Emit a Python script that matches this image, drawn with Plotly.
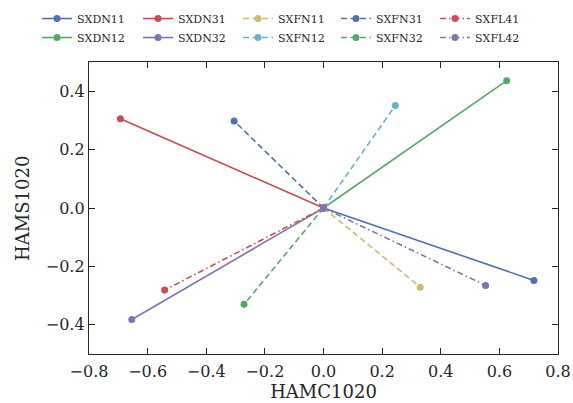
import plotly.graph_objects as go

# Loading vectors: each series runs from the origin to its end point
names = ["SXDN11", "SXDN12", "SXDN31", "SXDN32", "SXFN11",
         "SXFN12", "SXFN31", "SXFN32", "SXFL41", "SXFL42"]
end_x = [0.718, 0.625, -0.693, -0.654, 0.330, 0.245, -0.305, -0.271, -0.542, 0.553]
end_y = [-0.248, 0.436, 0.306, -0.382, -0.271, 0.351, 0.298, -0.330, -0.281, -0.265]
colors = ["#4C72B0", "#55A868", "#C44E52", "#8172B2", "#CCB974",
          "#64B5CD", "#4C72B0", "#55A868", "#C44E52", "#8172B2"]
dashes = ["solid", "solid", "solid", "solid", "6px,3.5px",
          "6px,3.5px", "6px,3.5px", "6px,3.5px", "6px,3px,1.5px,3px", "6px,3px,1.5px,3px"]
# legend columns: two entries per column, five columns
legend_col = ["legend", "legend", "legend2", "legend2", "legend3",
              "legend3", "legend4", "legend4", "legend5", "legend5"]
legend_col_x = [0.0646, 0.2408, 0.4154, 0.5864, 0.7592]

x_ticks = [-0.8, -0.6, -0.4, -0.2, 0.0, 0.2, 0.4, 0.6, 0.8]
y_ticks = [-0.4, -0.2, 0.0, 0.2, 0.4]

FONT = "DejaVu Serif"

fig = go.Figure()
for n, ex, ey, c, d, lg in zip(names, end_x, end_y, colors, dashes, legend_col):
    fig.add_trace(go.Scatter(
        x=[0.0, ex], y=[0.0, ey], name=n, mode="lines+markers",
        line=dict(color=c, width=1.6, dash=d),
        marker=dict(color=c, size=7),
        legend=lg,
    ))

def fmt(v):
    s = f"{v:.1f}"
    return s.replace("-", "\u2212")

axis_common = dict(
    showgrid=False, zeroline=False, showline=True, linecolor="#262626",
    linewidth=1.3, mirror="ticks", ticks="inside", ticklen=6, tickwidth=1,
    tickcolor="#262626", tickfont=dict(family=FONT, size=16, color="#262626"),
)

legend_style = dict(orientation="v", xanchor="left", xref="container",
                    y=0.99, yanchor="top", yref="container",
                    font=dict(family=FONT, size=11, color="#262626"),
                    bgcolor="rgba(0,0,0,0)", itemwidth=30, tracegroupgap=0)

layout_legends = {}
for i, lx in enumerate(legend_col_x):
    key = "legend" if i == 0 else f"legend{i + 1}"
    layout_legends[key] = dict(x=lx, **legend_style)

fig.update_layout(
    width=573, height=403,
    margin=dict(l=89, r=15, t=62, b=49, autoexpand=False),
    paper_bgcolor="white", plot_bgcolor="white",
    font=dict(family=FONT, color="#262626"),
    xaxis=dict(range=[-0.8, 0.8], tickvals=x_ticks, ticktext=[fmt(v) for v in x_ticks],
               title=dict(text="HAMC1020", font=dict(family=FONT, size=18), standoff=1),
               ticklabelstandoff=3, **axis_common),
    yaxis=dict(range=[-0.5, 0.5], tickvals=y_ticks, ticktext=[fmt(v) for v in y_ticks],
               **axis_common),
    annotations=[dict(text="HAMS1020", textangle=-90, xref="paper", yref="paper",
                      x=-0.143, y=0.5, xanchor="center", yanchor="middle",
                      showarrow=False, font=dict(family=FONT, size=18, color="#262626"))],
    showlegend=True,
    **layout_legends,
)

fig.write_html("out.html")
